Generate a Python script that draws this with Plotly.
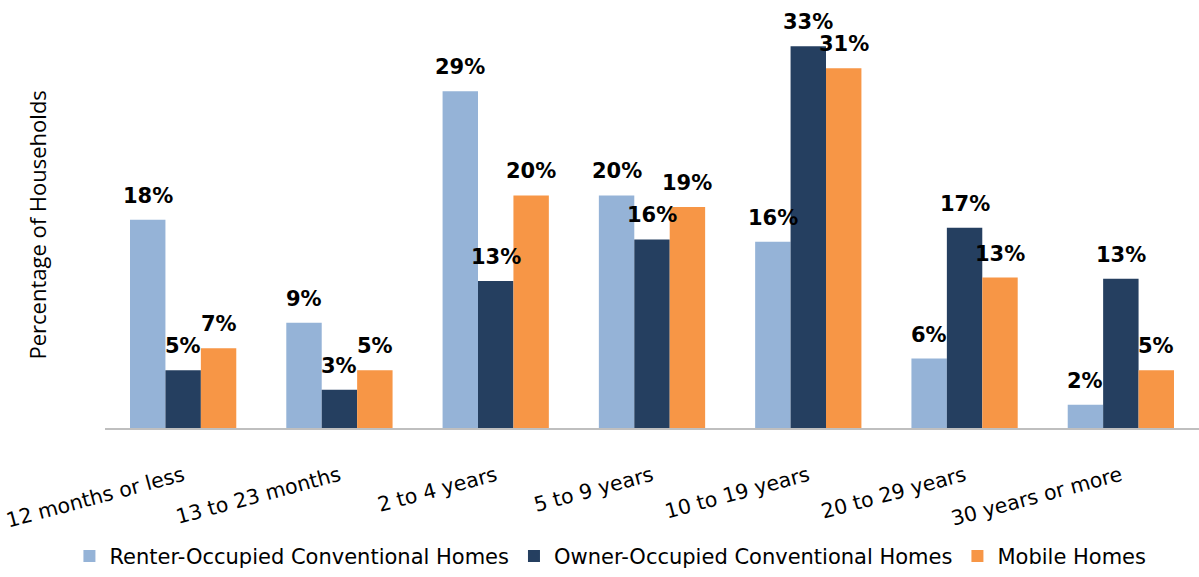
import plotly.graph_objects as go

categories = ["12 months or less", "13 to 23 months", "2 to 4 years", "5 to 9 years",
              "10 to 19 years", "20 to 29 years", "30 years or more"]
renter = [18.0, 9.1, 29.1, 20.1, 16.1, 6.0, 2.0]
owner = [5.0, 3.3, 12.7, 16.3, 33.0, 17.3, 12.9]
mobile = [6.9, 5.0, 20.1, 19.1, 31.1, 13.0, 5.0]
series_names = ["Renter-Occupied Conventional Homes", "Owner-Occupied Conventional Homes", "Mobile Homes"]
colors = ["#95B3D7", "#253F60", "#F79646"]

BARGAP = 0.32
bar_w = (1 - BARGAP) / 3

fig = go.Figure()
annotations = []
for j, (name, vals, c) in enumerate(zip(series_names, [renter, owner, mobile], colors)):
    fig.add_trace(go.Bar(x=categories, y=vals, name=name, marker_color=c,
                         marker_line_width=0))
    for i, v in enumerate(vals):
        annotations.append(dict(
            x=i + (j - 1) * bar_w, y=v, xref="x", yref="y",
            text=f"{v:.0f}%", showarrow=False, yanchor="bottom", xanchor="center",
            yshift=10, font=dict(family="DejaVu Sans", size=21, color="#000000", weight="bold"),
        ))

annotations.append(dict(
    x=-0.063, y=0.5, xref="paper", yref="paper", text="Percentage of Households",
    textangle=-90, showarrow=False, xanchor="center", yanchor="middle",
    font=dict(family="Open Sans", size=22, color="#000000"),
))

fig.update_layout(
    barmode="group", bargap=BARGAP, bargroupgap=0,
    width=1199, height=577, autosize=False,
    margin=dict(l=105, r=0, t=23, b=144),
    plot_bgcolor="white", paper_bgcolor="white",
    font=dict(family="DejaVu Sans", color="#000000"),
    annotations=annotations,
    legend=dict(orientation="h", x=0.462, xanchor="center", y=-0.317, yanchor="middle",
                font=dict(family="DejaVu Sans", size=21), traceorder="normal"),
    yaxis=dict(range=[0, 35], showticklabels=False, showgrid=False, zeroline=False,
               automargin=False),
    xaxis=dict(tickangle=-15, tickfont=dict(family="DejaVu Sans", size=20.5), showline=True,
               linecolor="#BFBFBF", linewidth=2, ticks="", automargin=False,
               ticklabelstandoff=26),
)
fig.write_html("out.html", config={"displayModeBar": False, "responsive": False},
               post_script="document.body.style.margin='0';")
